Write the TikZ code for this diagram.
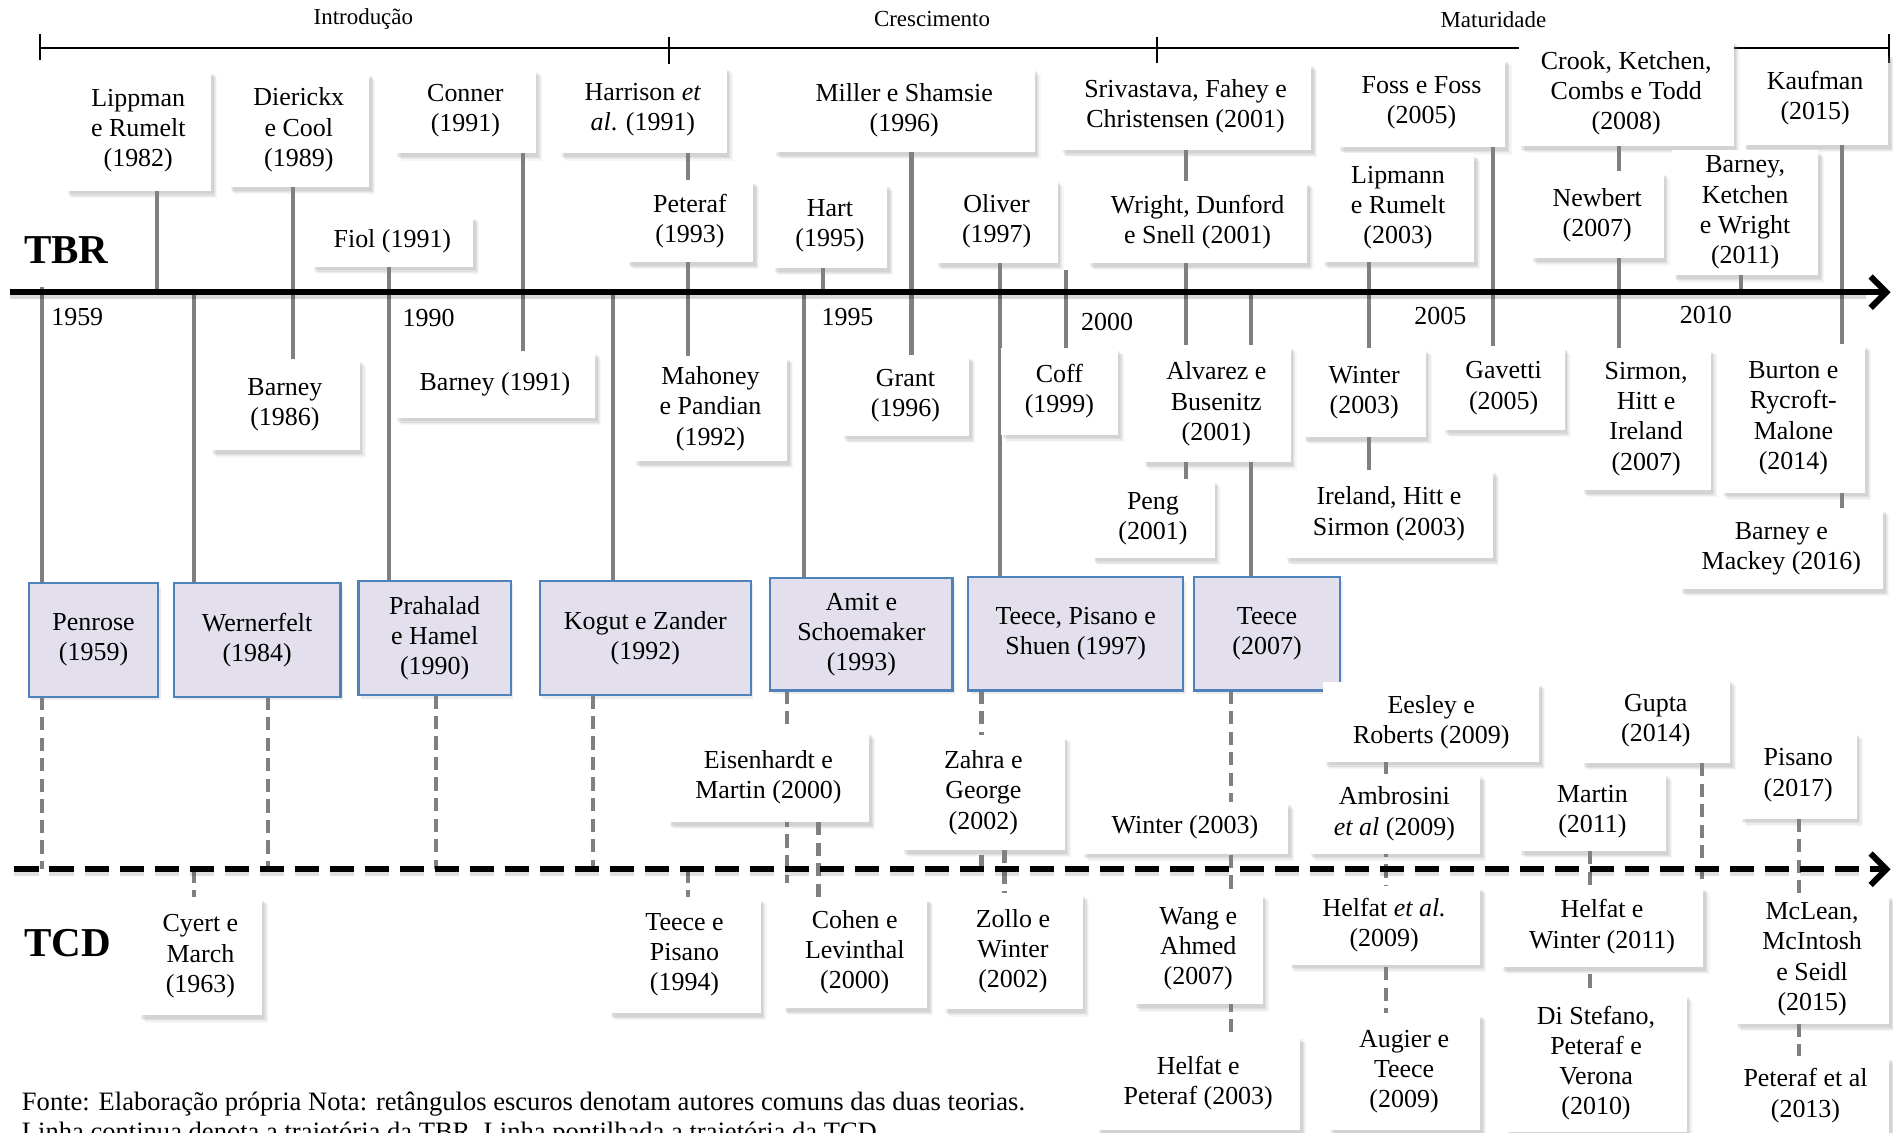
\documentclass[tikz,border=0pt]{standalone}
\usepackage{fontspec}
\setmainfont{Liberation Serif}
\usetikzlibrary{shadows,arrows.meta,backgrounds}
\definecolor{lav}{HTML}{E4DFEC}
\definecolor{bord}{HTML}{4F81BD}
\definecolor{cgray}{HTML}{808080}
\tikzset{
  txt/.style={font=\fontsize{21.5}{25}\selectfont, align=center, inner sep=0pt, outer sep=0pt},
  softshadow/.style={
    drop shadow={shadow xshift=5pt, shadow yshift=-6pt, opacity=0.07},
    drop shadow={shadow xshift=4pt, shadow yshift=-5pt, opacity=0.09},
    drop shadow={shadow xshift=3pt, shadow yshift=-4pt, opacity=0.12},
    drop shadow={shadow xshift=2pt, shadow yshift=-3pt, opacity=0.12}},
  wbox/.style={txt, fill=white, softshadow},
  cbox/.style={txt, fill=lav, draw=bord, line width=1.8pt,
    drop shadow={shadow xshift=2pt, shadow yshift=-3pt, opacity=0.15}},
  conn/.style={draw=cgray, line width=3.4pt},
  dconn/.style={conn, dash pattern=on 11pt off 6pt},
  yr/.style={font=\fontsize{21.5}{25}\selectfont, inner sep=0pt},
  foot/.style={font=\fontsize{22}{25}\selectfont, inner sep=0pt},
  phlab/.style={font=\fontsize{19}{22}\selectfont, inner sep=0pt},
  axis/.style={line width=5pt, -{Straight Barb[length=13pt,width=26pt]}},
  bigl/.style={font=\fontsize{34}{40}\selectfont\bfseries, inner sep=0pt},
}
\newcommand\tlbox[7][wbox]{\node[#1, minimum width={#5-#3}, minimum height={#6-#4}] (#2) at ({(#3+#5)/2},{(#4+#6)/2}) {#7};}
\newcommand\vcon[4][conn]{\coordinate (vcx) at (#2,0); \draw[#1] (#3 -| vcx) -- (#4 -| vcx);}
\begin{document}
\begin{tikzpicture}[x=1pt,y=-1pt]
\path[use as bounding box, clip] (0,0) rectangle (1568,938);

% axes coordinates
\coordinate (tbr) at (8,242); \coordinate (tbrE) at (1566,242);
\coordinate (tcd) at (12,720); \coordinate (tcdE) at (1566,720);
\coordinate (ph1) at (33,40); \coordinate (ph2) at (554,40);
\coordinate (ph3) at (958,40); \coordinate (ph4) at (1565,40);
\coordinate (coffTop) at (883,224);
\coordinate (eisEnd) at (652,731);
\coordinate (gupEnd) at (1410,730);

% phase labels
\node[phlab] (intro) at (301,16) {Introdução};
\node[phlab] (cresc) at (772,16) {Crescimento};
\node[phlab] (matur) at (1237,16) {Maturidade};

% big labels
\node[bigl] (tbrlab) at (55,207) {TBR};
\node[bigl] (tcdlab) at (56,781) {TCD};

% axes
\draw[line width=4pt, black, opacity=0.15] ([yshift=-4pt]tbr) -- ([yshift=-4pt,xshift=-20pt]tbrE);
\draw[axis] (tbr) -- (tbrE);
\draw[line width=4pt, black, opacity=0.12, dash pattern=on 20pt off 9pt] ([yshift=-4pt]tcd) -- ([yshift=-4pt,xshift=-20pt]tcdE);
\draw[axis, dash pattern=on 20pt off 9pt] (tcd) -- (tcdE);

% year labels
\node[yr] (y1959) at (64,263) {1959};
\node[yr] (y1990) at (355,263) {1990};
\node[yr] (y1995) at (702,263) {1995};
\node[yr] (y2000) at (917,267) {2000};
\node[yr] (y2005) at (1193,262) {2005};
\node[yr] (y2010) at (1413,261) {2010};

% TBR boxes above
\tlbox{lip}{54}{58}{175}{158}{Lippman\\e Rumelt\\(1982)}
\tlbox{die}{189}{60}{306}{155}{Dierickx\\e Cool\\(1989)}
\tlbox{con}{327}{57}{444}{127}{Conner\\(1991)}
\tlbox{fio}{258}{178}{392}{221}{Fiol (1991)}
\tlbox{har}{463}{55}{602}{127}{Harrison \textit{et}\\\textit{al}. (1991)}
\tlbox{pet}{519}{149}{624}{217}{Peteraf\\(1993)}
\tlbox{hart}{640}{152}{735}{222}{Hart\\(1995)}
\tlbox{mil}{641}{56}{857}{126}{Miller e Shamsie\\(1996)}
\tlbox{oli}{775}{148}{876}{218}{Oliver\\(1997)}
\tlbox{sri}{878}{52}{1086}{124}{Srivastava, Fahey e\\Christensen (2001)}
\tlbox{wri}{901}{150}{1083}{218}{Wright, Dunford\\e Snell (2001)}
\tlbox{foss}{1108}{48}{1247}{122}{Foss e Foss\\(2005)}
\tlbox{lipm}{1095}{127}{1221}{217}{Lipmann\\e Rumelt\\(2003)}
\tlbox{crook}{1258}{33}{1436}{121}{Crook, Ketchen,\\Combs e Todd\\(2008)}
\tlbox{newb}{1268}{142}{1378}{214}{Newbert\\(2007)}
\tlbox{kauf}{1443}{43}{1564}{120}{Kaufman\\(2015)}
\tlbox{bkw}{1385}{124}{1506}{228}{Barney,\\Ketchen\\e Wright\\(2011)}

% TBR boxes below axis
\tlbox{bar86}{174}{297}{298}{373}{Barney\\(1986)}
\tlbox{bar91}{327}{291}{493}{346}{Barney (1991)}
\tlbox{mah}{525}{295}{652}{382}{Mahoney\\e Pandian\\(1992)}
\tlbox{gra}{697}{294}{803}{361}{Grant\\(1996)}
\tlbox{coff}{829}{288}{926}{360}{Coff\\(1999)}
\tlbox{alv}{946}{286}{1069}{383}{Alvarez e\\Busenitz\\(2001)}
\tlbox{peng}{904}{397}{1006}{462}{Peng\\(2001)}
\tlbox{win03}{1079}{288}{1181}{362}{Winter\\(2003)}
\tlbox{gav}{1195}{287}{1296}{356}{Gavetti\\(2005)}
\tlbox{ire}{1064}{389}{1237}{462}{Ireland, Hitt e\\Sirmon (2003)}
\tlbox{sir}{1310}{288}{1417}{406}{Sirmon,\\Hitt e\\Ireland\\(2007)}
\tlbox{bur}{1426}{285}{1545}{408}{Burton e\\Rycroft-\\Malone\\(2014)}
\tlbox{bm}{1391}{421}{1560}{488}{Barney e\\Mackey (2016)}

% common boxes
\tlbox[cbox]{pen}{24}{483}{131}{577}{Penrose\\(1959)}
\tlbox[cbox]{wer}{144}{483}{282}{577}{Wernerfelt\\(1984)}
\tlbox[cbox]{pra}{297}{481}{423}{576}{Prahalad\\e Hamel\\(1990)}
\tlbox[cbox]{kog}{447}{481}{622}{576}{Kogut e Zander\\(1992)}
\tlbox[cbox]{amit}{638}{479}{789}{572}{Amit e\\Schoemaker\\(1993)}
\tlbox[cbox]{tps}{802}{478}{980}{572}{Teece, Pisano e\\Shuen (1997)}
\tlbox[cbox]{tee07}{989}{478}{1110}{572}{Teece\\(2007)}

% TCD boxes
\tlbox{cyert}{115}{743}{217}{841}{Cyert e\\March\\(1963)}
\tlbox{tp}{504}{743}{630}{839}{Teece e\\Pisano\\(1994)}
\tlbox{eis}{553}{606}{720}{681}{Eisenhardt e\\Martin (2000)}
\tlbox{coh}{648}{743}{768}{835}{Cohen e\\Levinthal\\(2000)}
\tlbox{zah}{747}{609}{882}{704}{Zahra e\\George\\(2002)}
\tlbox{zol}{781}{740}{897}{836}{Zollo e\\Winter\\(2002)}
\tlbox{wint}{896}{664}{1067}{707}{Winter (2003)}
\tlbox{wang}{939}{740}{1046}{832}{Wang e\\Ahmed\\(2007)}
\tlbox{hp}{908}{858}{1077}{936}{Helfat e\\Peteraf (2003)}
\tlbox{ees}{1096}{565}{1275}{631}{Eesley e\\Roberts (2009)}
\tlbox{amb}{1084}{641}{1226}{707}{Ambrosini\\\textit{et al} (2009)}
\tlbox{hea}{1067}{734}{1226}{799}{Helfat \textit{et al.}\\(2009)}
\tlbox{aug}{1100}{839}{1226}{936}{Augier e\\Teece\\(2009)}
\tlbox{gup}{1310}{562}{1433}{632}{Gupta\\(2014)}
\tlbox{mar}{1258}{640}{1380}{705}{Martin\\(2011)}
\tlbox{hw}{1243}{734}{1411}{801}{Helfat e\\Winter (2011)}
\tlbox{dis}{1247}{823}{1397}{938}{Di Stefano,\\Peteraf e\\Verona\\(2010)}
\tlbox{pis}{1441}{606}{1538}{678}{Pisano\\(2017)}
\tlbox{mcl}{1437}{741}{1565}{848}{McLean,\\McIntosh\\e Seidl\\(2015)}
\tlbox{pea}{1426}{875}{1565}{940}{Peteraf et al\\(2013)}

% footer
\node[foot, anchor=base west] (foot1) at (18,920) {Fonte: Elaboração própria Nota: retângulos escuros denotam autores comuns das duas teorias.};
\node[foot, anchor=base west] (foot2) at (18,945) {Linha continua denota a trajetória da TBR. Linha pontilhada a trajetória da TCD.};

\begin{pgfonlayer}{background}
  % phase line
  \draw[line width=1.6pt] (ph1) -- (ph4);
  \draw[line width=1.6pt] ([yshift=12pt]ph1) -- ([yshift=-10pt]ph1);
  \draw[line width=1.6pt] ([yshift=9pt]ph2) -- ([yshift=-13pt]ph2);
  \draw[line width=1.6pt] ([yshift=9pt]ph3) -- ([yshift=-13pt]ph3);
  \draw[line width=1.6pt] ([yshift=12pt]ph4) -- ([yshift=-12pt]ph4);
  % TBR connectors
  \vcon{130}{lip.south}{tbr}
  \vcon{243}{die.south}{bar86.north}
  \vcon{433}{con.south}{bar91.north}
  \vcon{322}{fio.south}{pra.north}
  \vcon{570}{har.south}{mah.north}
  \vcon{35}{[yshift=4pt]tbr}{pen.north}
  \vcon{161}{tbr}{wer.north}
  \vcon{508}{tbr}{kog.north}
  \vcon{682}{hart.south}{tbr}
  \vcon{666}{tbr}{amit.north}
  \vcon{755}{mil.south}{gra.north}
  \vcon{828}{oli.south}{tps.north}
  \vcon{883}{coffTop}{coff.north}
  \vcon{982}{sri.south}{peng.north}
  \vcon{1036}{tbr}{tee07.north}
  \vcon{1237}{foss.south}{gav.north}
  \vcon{1134}{lipm.south}{ire.north}
  \vcon{1341}{crook.south}{sir.north}
  \vcon{1526}{kauf.south}{bm.north}
  \vcon{1442}{bkw.south}{tbr}
  % TCD connectors
  \vcon[dconn]{35}{pen.south}{tcd}
  \vcon[dconn]{222}{wer.south}{tcd}
  \vcon[dconn]{361}{pra.south}{tcd}
  \vcon[dconn]{491}{kog.south}{tcd}
  \vcon[dconn]{652}{amit.south}{eisEnd}
  \vcon[dconn]{570}{tcd}{tp.north}
  \vcon[dconn]{678}{eis.south}{coh.north}
  \vcon[dconn]{813}{tps.south}{tcd}
  \vcon[dconn]{832}{zah.south}{zol.north}
  \vcon[dconn]{1020}{tee07.south}{hp.north}
  \vcon[dconn]{161}{tcd}{cyert.north}
  \vcon[dconn]{1148}{ees.south}{aug.north}
  \vcon[dconn]{1410}{gup.south}{gupEnd}
  \vcon[dconn]{1317}{mar.south}{dis.north}
  \vcon[dconn]{1490}{pis.south}{pea.north}
\end{pgfonlayer}
\end{tikzpicture}
\end{document}
